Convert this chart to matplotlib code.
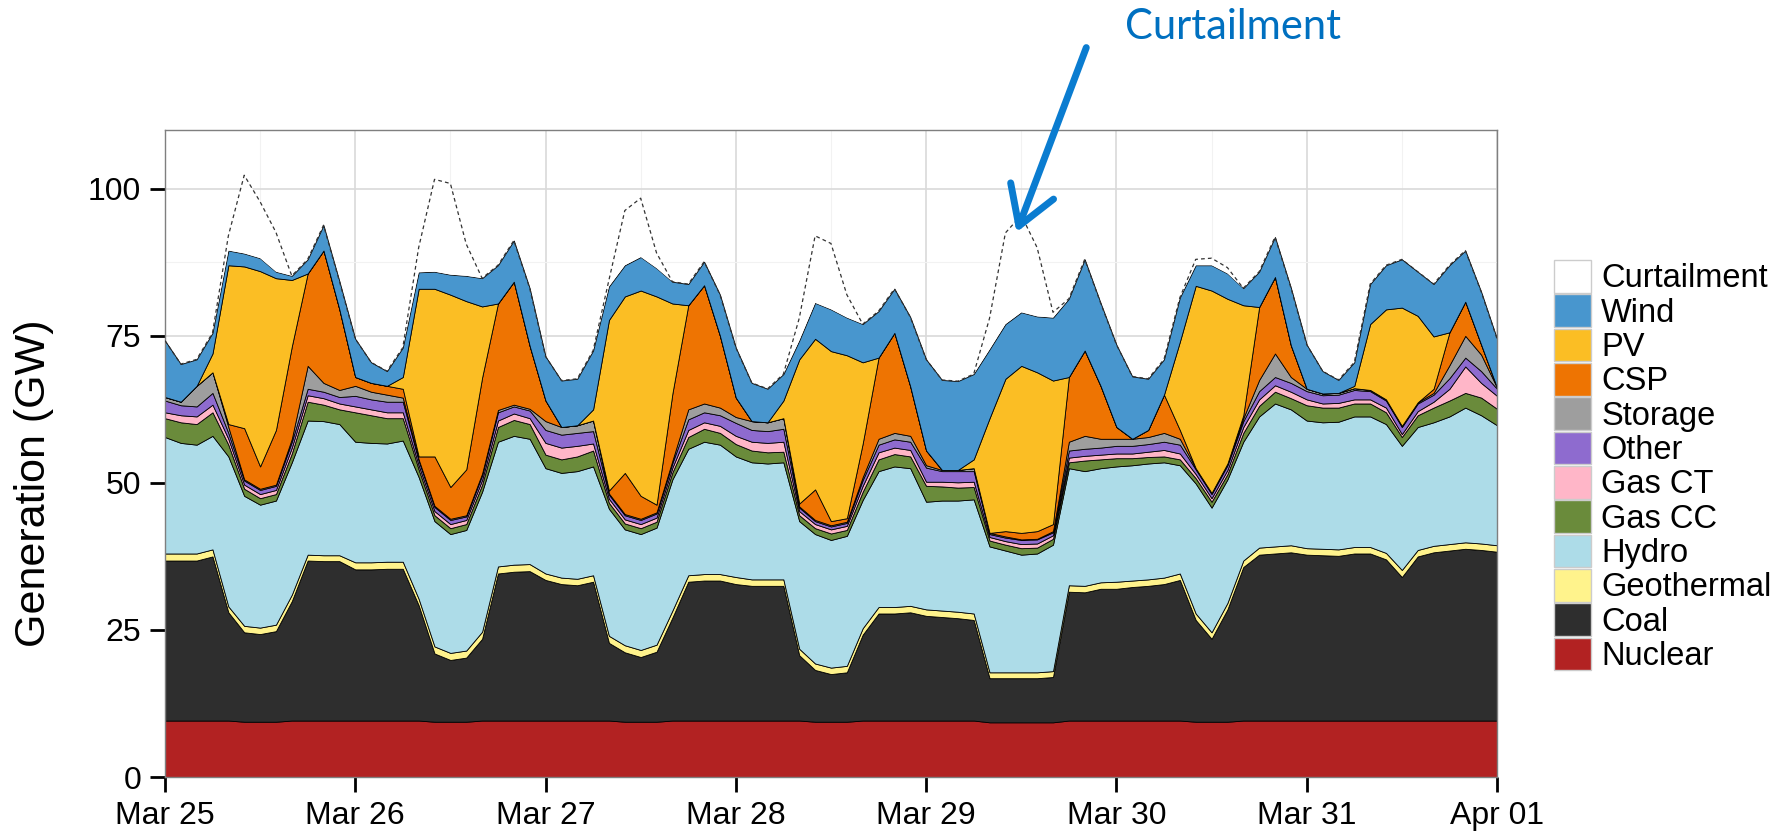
import numpy as np
import matplotlib
matplotlib.use("Agg")
import matplotlib.pyplot as plt
from matplotlib.patches import Patch

plt.rcParams["font.family"] = ["Liberation Sans", "DejaVu Sans"]

# time axis: hours since Mar 25 00:00, every 2 h up to Apr 01 00:00
hours = np.arange(0, 169, 2)
day_labels = ["Mar 25", "Mar 26", "Mar 27", "Mar 28", "Mar 29", "Mar 30", "Mar 31", "Apr 01"]

# generation by source (GW)
nuclear = [9.6, 9.6, 9.6, 9.6, 9.6, 9.4, 9.4, 9.4, 9.6, 9.6, 9.6, 9.6,
           9.6, 9.6, 9.6, 9.6, 9.6, 9.4, 9.4, 9.4, 9.6, 9.6, 9.6, 9.6,
           9.6, 9.6, 9.6, 9.6, 9.6, 9.4, 9.4, 9.4, 9.6, 9.6, 9.6, 9.6,
           9.6, 9.6, 9.6, 9.6, 9.6, 9.4, 9.4, 9.4, 9.6, 9.6, 9.6, 9.6,
           9.6, 9.6, 9.6, 9.6, 9.3, 9.3, 9.3, 9.3, 9.3, 9.6, 9.6, 9.6,
           9.6, 9.6, 9.6, 9.6, 9.6, 9.4, 9.4, 9.4, 9.6, 9.6, 9.6, 9.6,
           9.6, 9.6, 9.6, 9.6, 9.6, 9.6, 9.6, 9.6, 9.6, 9.6, 9.6, 9.6,
           9.6]
coal = [27.2, 27.2, 27.2, 27.9, 18.4, 15.2, 14.9, 15.4, 20.3, 27.2, 27.1, 27.1,
        25.7, 25.7, 25.8, 25.8, 19.6, 11.6, 10.5, 10.9, 13.9, 25.0, 25.3, 25.4,
        23.9, 23.2, 23.0, 23.6, 13.2, 11.8, 11.0, 11.9, 17.5, 23.6, 23.8, 23.8,
        23.2, 22.9, 22.9, 22.9, 11.1, 8.8, 8.1, 8.4, 14.6, 18.2, 18.2, 18.4,
        17.8, 17.6, 17.4, 17.1, 7.5, 7.5, 7.5, 7.5, 7.7, 21.9, 21.8, 22.4,
        22.4, 22.7, 22.9, 23.2, 23.9, 17.3, 14.1, 19.1, 26.1, 28.2, 28.4, 28.6,
        28.2, 28.1, 28.0, 28.4, 28.4, 27.4, 24.4, 27.9, 28.6, 28.9, 29.2, 29.0,
        28.7]
geothermal = [1.2, 1.2, 1.2, 1.2, 1.0, 1.1, 1.1, 1.1, 1.1, 1.0, 1.0, 1.0,
              1.2, 1.2, 1.2, 1.2, 1.1, 1.2, 1.2, 1.2, 1.2, 1.2, 1.2, 1.2,
              1.1, 1.1, 1.1, 1.1, 1.2, 1.2, 1.2, 1.2, 1.2, 1.1, 1.1, 1.1,
              1.2, 1.1, 1.1, 1.1, 1.1, 1.1, 1.1, 1.1, 1.1, 1.1, 1.1, 1.1,
              1.1, 1.1, 1.1, 1.1, 1.0, 1.0, 1.0, 1.0, 1.0, 1.1, 1.1, 1.1,
              1.2, 1.1, 1.1, 1.1, 1.1, 1.1, 1.1, 1.1, 1.1, 1.2, 1.2, 1.2,
              1.1, 1.1, 1.1, 1.1, 1.1, 1.1, 1.2, 1.1, 1.1, 1.1, 1.1, 1.1,
              1.1]
hydro = [19.8, 18.8, 18.5, 19.3, 25.5, 22.1, 20.9, 21.1, 22.5, 22.8, 22.8, 22.3,
         20.5, 20.3, 20.1, 20.6, 20.7, 21.3, 20.2, 20.5, 23.8, 21.2, 21.9, 21.3,
         17.9, 17.8, 18.3, 18.5, 21.6, 19.7, 19.7, 19.9, 22.3, 21.5, 22.5, 22.0,
         20.5, 19.9, 19.7, 19.9, 21.7, 22.0, 21.7, 22.1, 21.8, 23.1, 23.9, 23.4,
         18.3, 18.7, 18.9, 19.4, 21.4, 20.7, 20.0, 20.2, 21.5, 19.9, 19.5, 19.4,
         19.6, 19.6, 19.7, 19.6, 18.4, 22.1, 21.2, 21.0, 20.2, 22.3, 24.3, 23.1,
         21.7, 21.5, 21.7, 22.2, 22.2, 21.9, 21.1, 20.9, 21.0, 21.7, 22.9, 21.8,
         20.4]
gas_cc = [3.2, 3.5, 3.5, 4.0, 2.0, 1.2, 1.1, 1.1, 1.5, 3.2, 2.8, 2.5,
          5.0, 4.7, 4.3, 3.8, 1.3, 1.0, 1.0, 1.0, 1.2, 2.5, 2.7, 2.5,
          2.3, 2.3, 2.5, 2.7, 1.0, 1.0, 1.0, 1.0, 1.2, 2.0, 2.2, 2.0,
          2.1, 2.0, 1.9, 1.8, 1.0, 1.0, 1.1, 1.0, 1.4, 2.0, 2.1, 2.0,
          2.7, 2.4, 2.2, 2.1, 1.0, 1.0, 1.1, 1.0, 1.0, 1.0, 1.8, 1.5,
          1.4, 1.2, 1.1, 1.0, 1.0, 0.9, 1.0, 0.9, 1.5, 1.8, 2.0, 1.9,
          2.6, 2.5, 2.4, 2.2, 2.2, 2.0, 1.5, 2.0, 2.5, 2.7, 2.5, 3.0,
          2.8]
gas_ct = [1.0, 1.2, 1.3, 1.3, 1.0, 0.7, 0.7, 0.7, 1.0, 1.1, 1.1, 1.0,
          1.0, 1.0, 1.0, 1.0, 0.7, 0.7, 0.7, 0.7, 0.8, 1.1, 1.1, 1.0,
          2.0, 2.0, 1.8, 1.2, 0.7, 0.7, 0.7, 0.7, 0.8, 1.2, 1.1, 1.2,
          1.4, 1.5, 1.6, 1.7, 0.7, 0.7, 0.7, 0.7, 1.0, 1.2, 1.1, 1.1,
          0.7, 0.8, 0.9, 0.9, 0.6, 0.6, 0.7, 0.7, 0.6, 0.8, 0.8, 0.8,
          0.8, 0.8, 0.9, 1.1, 1.0, 0.7, 0.6, 0.7, 1.0, 1.1, 1.1, 1.1,
          1.0, 0.7, 0.8, 0.7, 0.7, 0.8, 0.5, 0.7, 1.0, 2.0, 4.5, 2.5,
          2.2]
other = [2.0, 1.7, 1.7, 2.0, 1.0, 0.7, 0.7, 0.7, 1.0, 1.1, 1.1, 1.1,
         1.8, 1.7, 1.8, 1.8, 0.8, 0.7, 0.7, 0.6, 0.8, 1.4, 1.2, 1.3,
         2.2, 2.2, 2.2, 2.1, 0.7, 0.7, 0.7, 0.7, 0.8, 1.8, 1.7, 1.8,
         2.2, 2.0, 2.0, 2.2, 0.6, 0.5, 0.5, 0.5, 1.0, 1.3, 1.4, 1.4,
         2.4, 1.8, 1.9, 1.8, 0.5, 0.6, 0.7, 0.7, 0.5, 1.2, 1.2, 1.2,
         1.3, 1.3, 1.3, 1.4, 1.5, 0.8, 0.7, 0.8, 1.0, 1.4, 1.4, 1.5,
         1.4, 1.4, 1.4, 1.6, 1.4, 1.2, 1.2, 1.3, 1.2, 1.8, 1.5, 2.0,
         1.2]
storage = [0.6, 0.6, 3.5, 3.5, 1.0, 0.2, 0.2, 0.2, 0.5, 3.9, 1.5, 1.2,
           1.7, 1.3, 1.2, 0.7, 0.2, 0.2, 0.2, 0.2, 0.3, 0.4, 0.3, 0.3,
           1.5, 1.3, 1.3, 1.8, 0.2, 0.2, 0.2, 0.2, 0.4, 1.7, 1.5, 1.3,
           1.0, 1.5, 1.5, 1.8, 0.2, 0.2, 0.2, 0.2, 0.5, 1.0, 1.1, 1.0,
           0.4, 0.2, 0.2, 0.5, 0.2, 0.2, 0.1, 0.1, 0.2, 1.5, 2.2, 1.5,
           1.2, 1.2, 1.2, 1.5, 1.0, 0.2, 0.2, 0.3, 0.5, 1.9, 4.0, 1.0,
           0.4, 0.3, 0.3, 0.3, 0.2, 0.2, 0.2, 0.2, 0.3, 2.2, 3.7, 2.8,
           0.2]
csp = [0.0, 0.0, 0.0, 0.0, 0.5, 8.7, 3.8, 9.3, 15.7, 15.7, 22.5, 13.7,
       1.5, 1.5, 1.5, 1.5, 0.5, 8.4, 5.4, 7.8, 16.3, 18.1, 20.9, 10.7,
       3.5, 0.0, 0.0, 0.0, 0.5, 7.0, 3.9, 1.3, 11.4, 17.7, 20.1, 12.2,
       3.3, 0.0, 0.0, 0.0, 0.5, 5.2, 0.7, 0.6, 5.7, 13.8, 17.0, 8.4,
       2.5, 0.0, 0.0, 0.0, 0.0, 0.9, 1.1, 1.3, 1.2, 11.0, 14.5, 9.0,
       2.0, 0.0, 1.2, 6.5, 1.5, 0.0, 0.0, 0.0, 0.5, 12.4, 13.0, 5.4,
       0.0, 0.0, 0.0, 0.0, 0.0, 0.0, 0.0, 0.0, 0.7, 5.6, 5.8, 1.7,
       0.0]
pv = [0.0, 0.0, 0.0, 3.2, 27.0, 27.5, 33.2, 25.8, 11.3, 0.0, 0.0, 0.0,
      0.0, 0.0, 0.0, 2.0, 28.5, 28.5, 32.7, 28.6, 12.1, 0.0, 0.0, 0.0,
      0.0, 0.0, 0.0, 1.9, 29.0, 30.0, 34.9, 35.4, 15.3, 0.0, 0.0, 0.0,
      0.0, 0.0, 0.0, 3.0, 24.5, 25.6, 28.9, 27.7, 13.8, 0.0, 0.0, 0.0,
      0.0, 0.0, 0.0, 1.5, 19.5, 25.9, 28.4, 27.0, 24.4, 0.0, 0.0, 0.0,
      0.0, 0.0, 0.0, 0.0, 15.0, 31.0, 34.4, 28.0, 18.7, 0.0, 0.0, 0.0,
      0.0, 0.0, 0.0, 0.4, 11.2, 15.3, 20.1, 14.7, 8.9, 0.0, 0.0, 0.0,
      0.0]
wind = [9.6, 6.4, 4.5, 3.5, 2.5, 2.2, 2.2, 1.1, 0.7, 2.4, 4.3, 4.8,
        6.5, 3.5, 2.5, 5.0, 2.8, 2.9, 3.4, 4.3, 4.8, 6.5, 7.0, 9.8,
        7.5, 7.9, 7.9, 10.0, 5.7, 5.3, 5.7, 4.8, 3.7, 3.6, 4.0, 7.0,
        8.5, 6.5, 5.7, 4.5, 3.2, 6.1, 7.1, 6.4, 6.5, 7.9, 7.5, 11.8,
        15.5, 15.3, 15.1, 14.5, 11.7, 9.3, 9.1, 9.5, 10.7, 13.3, 15.5, 14.1,
        14.0, 10.6, 8.7, 6.0, 7.5, 3.5, 4.3, 4.3, 2.9, 6.0, 6.8, 9.8,
        7.5, 3.8, 2.2, 4.0, 6.8, 7.5, 8.2, 7.5, 8.9, 11.4, 8.7, 9.0,
        8.3]
curtailment = [0, 0, 0, 0, 2.5, 13.3, 9.6, 6.7, 0, 0, 0, 0,
               0, 0, 0, 0, 4.2, 15.7, 15.5, 5.4, 0, 0, 0, 0,
               0, 0, 0, 0, 1.1, 9.3, 10.0, 2.6, 0, 0, 0, 0,
               0, 0, 0, 0, 3.8, 11.4, 11.2, 3.9, 0, 0, 0, 0,
               0, 0, 0, 0, 5.3, 15.5, 16.5, 11.7, 0.9, 0, 0, 0,
               0, 0, 0, 0, 0, 1.0, 1.2, 1.0, 0, 0, 0, 0,
               0, 0, 0, 0, 0, 0, 0, 0, 0, 0, 0, 0,
               0]

names = ["Nuclear", "Coal", "Geothermal", "Hydro", "Gas CC", "Gas CT",
         "Other", "Storage", "CSP", "PV", "Wind", "Curtailment"]
colors = ["#B22222", "#2E2E2E", "#FFF38C", "#ADDCE8", "#6A8B3B", "#FFB6C8",
          "#8E6BCF", "#9E9E9E", "#EE7402", "#FBBE24", "#4896CE", "#FFFFFF"]

stack = np.array([nuclear, coal, geothermal, hydro, gas_cc, gas_ct,
                  other, storage, csp, pv, wind, curtailment], dtype=float)
tops = np.cumsum(stack, axis=0)
bottoms = np.vstack([np.zeros(len(hours)), tops[:-1]])

fig = plt.figure(figsize=(17.83, 8.33), dpi=100)
ax = fig.add_axes([0.0925, 0.0672, 0.7471, 0.7768])

for i in range(len(names) - 1):
    ax.fill_between(hours, bottoms[i], tops[i], facecolor=colors[i],
                    edgecolor="black", linewidth=0.6, zorder=2)
# curtailment: white area with a dashed outline on top
ax.fill_between(hours, bottoms[-1], tops[-1], facecolor="white",
                edgecolor="none", zorder=2)
ax.plot(hours, tops[-1], color="#333333", lw=0.9, ls=(0, (3, 2.5)), zorder=3)

ax.set_xlim(0, 168)
ax.set_ylim(0, 110)
ax.set_xticks(np.arange(0, 169, 24))
ax.set_xticklabels(day_labels)
ax.set_xticks(np.arange(12, 168, 24), minor=True)
ax.set_yticks([0, 25, 50, 75, 100])
ax.set_yticks([12.5, 37.5, 62.5, 87.5], minor=True)
ax.set_axisbelow(True)
ax.grid(which="major", color="#D9D9D9", lw=1.2)
ax.grid(which="minor", color="#F2F2F2", lw=0.8)
ax.tick_params(which="major", length=11, width=2, color="black",
               labelsize=23, pad=6)
ax.tick_params(which="minor", length=0)
for sp in ax.spines.values():
    sp.set_color("#7F7F7F")
    sp.set_linewidth(1)

fig.text(0.019, 0.42, "Generation (GW)", rotation=90, fontsize=31,
         ha="center", va="center")

handles = [Patch(facecolor=c, edgecolor="#CCCCCC", lw=1) for c in colors[::-1]]
fig.legend(handles, names[::-1], loc="upper left",
           bbox_to_anchor=(0.8716, 0.688), frameon=False, fontsize=23.5,
           handlelength=1.12, handleheight=1.16, labelspacing=0.0,
           handletextpad=0.32, borderpad=0, borderaxespad=0)

# callout
ax.annotate("", xy=(107.4, 92.6), xytext=(116.2, 124.0),
            arrowprops=dict(arrowstyle="->, head_length=0.9, head_width=0.55",
                            color="#0A7CD0", lw=5, mutation_scale=30,
                            shrinkA=0, shrinkB=0),
            annotation_clip=False)
fig.text(0.6916, 0.967, "Curtailment", color="#0070C0", fontsize=30,
         family=["Lato", "DejaVu Sans"], ha="center", va="center")

fig.savefig("out.png", dpi=100)
